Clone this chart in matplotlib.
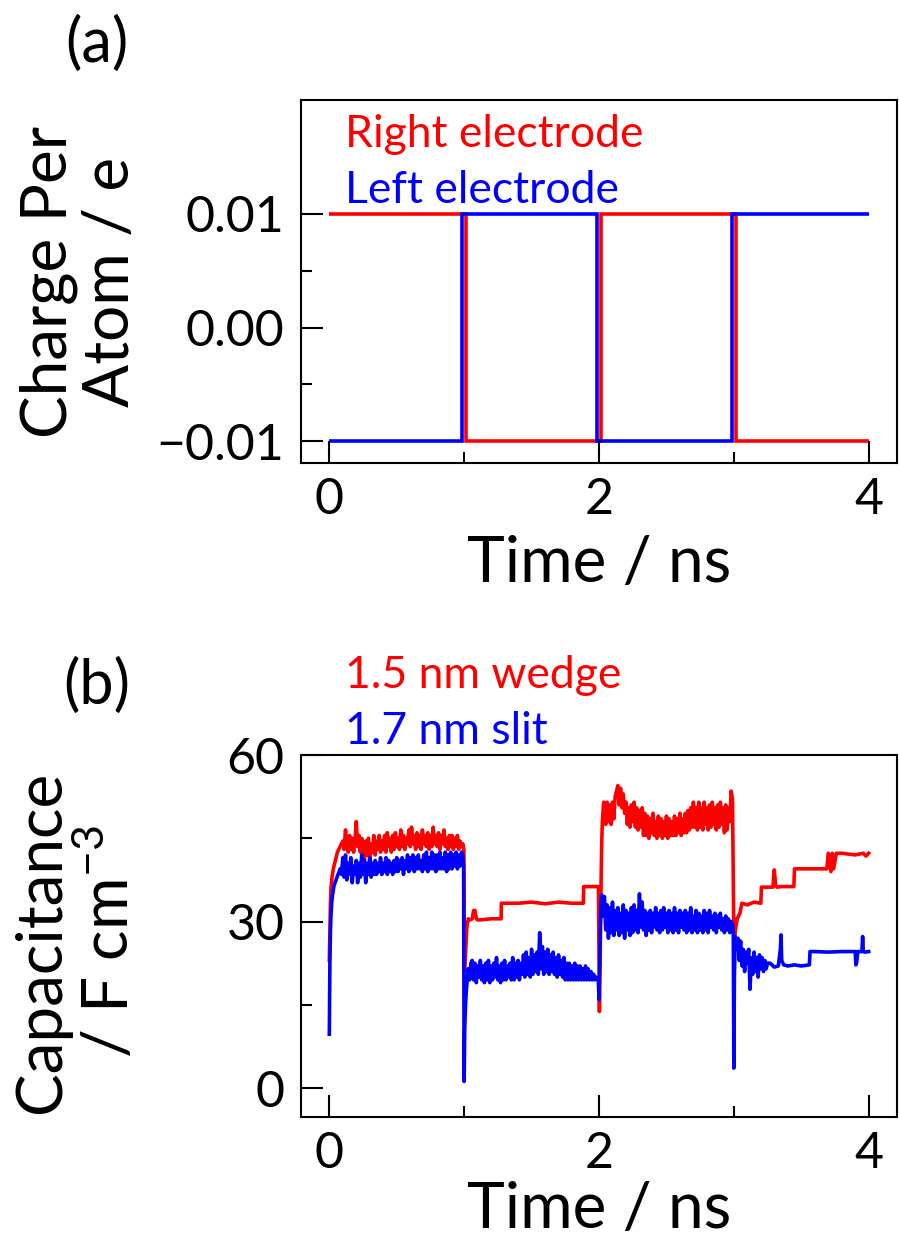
import numpy as np
import matplotlib
matplotlib.use("Agg")
import matplotlib.pyplot as plt
from matplotlib.ticker import FixedLocator

plt.rcParams['font.family'] = ['Lato', 'DejaVu Sans']
plt.rcParams['mathtext.fontset'] = 'custom'
plt.rcParams['mathtext.rm'] = 'Lato'
plt.rcParams['mathtext.default'] = 'regular'

RED = '#ff0000'
BLUE = '#0000ff'

# ---------------- (a) charge per atom ----------------
right_edges = [0.0, 1.017, 2.017, 3.017, 4.0]
right_charge = [0.01, -0.01, 0.01, -0.01]
left_edges = [0.0, 0.983, 1.983, 2.983, 4.0]
left_charge = [-0.01, 0.01, -0.01, 0.01]

# ---------------- (b) capacitance traces ----------------
# noisy plateaus are sampled every 0.01 ns between the given start/end times;
# explicit time lists are used around the switching events
wedge_rise_t = [0.0, 0.004, 0.008, 0.012, 0.02, 0.03, 0.04, 0.05, 0.06, 0.07, 0.08, 0.09]
wedge_rise_c = [23.0, 28.0, 33.0, 36.0, 38.0, 39.5, 40.5, 41.5, 42.5, 43.0, 43.5, 44.0]
wedge_p1 = [44.5, 43.0, 46.5, 44.0, 42.5, 45.5, 43.0, 45.0, 42.5, 44.5,
            48.0, 43.5, 45.5, 42.5, 45.0, 43.5, 41.0, 44.5, 42.0, 45.0,
            40.5, 44.0, 42.5, 45.5, 42.0, 44.5, 43.0, 45.5, 42.5, 44.5,
            43.0, 45.5, 42.5, 46.0, 43.5, 45.0, 42.5, 45.5, 43.0, 46.0,
            43.5, 45.0, 43.0, 46.5, 43.5, 45.5, 43.0, 45.0, 44.0, 46.5,
            43.5, 47.0, 44.0, 45.5, 43.0, 46.0, 43.5, 45.5, 43.0, 46.5,
            44.0, 45.5, 43.5, 46.0, 43.0, 45.5, 43.5, 47.0, 44.0, 45.5,
            43.5, 46.0, 43.0, 45.5, 44.0, 46.5, 43.5, 45.0, 43.0, 45.5,
            43.5, 45.5, 43.0, 45.0, 43.5, 45.5, 43.0, 44.5, 43.5]
wedge_sw1_t = [0.99, 0.998, 1.002, 1.01, 1.02, 1.03, 1.04, 1.06, 1.07, 1.08, 1.09, 1.10,
               1.12, 1.20, 1.274, 1.276, 1.40, 1.50, 1.60, 1.70, 1.80, 1.884, 1.886,
               1.95, 1.996, 2.003, 2.008, 2.012, 2.016, 2.02, 2.025, 2.03, 2.035]
wedge_sw1_c = [44.0, 43.0, 21.0, 24.0, 29.0, 30.5, 30.3, 30.5, 32.0, 32.0, 30.5, 30.3,
               30.3, 30.5, 30.5, 33.3, 33.3, 33.5, 33.2, 33.5, 33.3, 33.3, 36.3,
               36.3, 36.3, 13.8, 22.0, 30.0, 38.0, 44.0, 48.0, 50.0, 51.5]
wedge_p2 = [50.5, 47.5, 51.5, 48.0, 51.0, 47.5, 51.5, 48.5, 52.5, 53.5,
            54.5, 51.0, 54.0, 50.5, 53.0, 49.5, 51.5, 47.5, 50.5, 47.0,
            51.0, 48.0, 51.5, 47.0, 50.5, 46.5, 50.0, 47.0, 50.5, 45.5,
            49.5, 45.5, 49.0, 45.0, 48.5, 46.0, 49.5, 45.5, 48.0, 45.0,
            49.0, 45.5, 48.5, 45.0, 48.0, 45.5, 49.0, 45.0, 48.5, 45.5,
            48.0, 45.5, 49.0, 45.5, 48.5, 46.0, 49.5, 45.5, 48.5, 46.0,
            49.5, 46.0, 50.0, 46.5, 50.5, 47.0, 51.5, 47.0, 50.5, 46.5,
            51.5, 47.0, 50.5, 46.5, 51.5, 47.5, 50.5, 46.5, 51.0, 47.0,
            51.5, 47.5, 50.5, 46.5, 51.0, 47.0, 51.5, 47.5, 50.5, 46.0,
            51.0, 46.5, 50.5, 48.0, 53.5]
wedge_sw2_t = [2.99, 2.995, 3.0, 3.005, 3.015, 3.025, 3.035, 3.045, 3.06, 3.10, 3.15,
               3.20, 3.205, 3.25, 3.29, 3.30, 3.31, 3.32, 3.35, 3.445, 3.45, 3.55,
               3.60, 3.69, 3.70, 3.72, 3.73, 3.74, 3.76, 3.80, 3.90, 3.96, 3.98, 4.0]
wedge_sw2_c = [52.0, 40.0, 27.5, 27.0, 29.0, 30.5, 31.0, 31.5, 33.3, 33.0, 33.5,
               33.3, 36.2, 36.2, 36.2, 39.3, 36.5, 36.2, 36.3, 36.3, 39.5, 39.5,
               39.5, 39.5, 42.3, 39.0, 42.3, 39.5, 42.3, 42.3, 42.0, 42.3, 41.8, 42.3]

slit_rise_t = [0.0, 0.004, 0.008, 0.012, 0.018, 0.025, 0.035, 0.05, 0.065, 0.08, 0.09]
slit_rise_c = [9.7, 22.0, 28.0, 31.0, 33.5, 35.0, 36.5, 37.5, 38.5, 39.5, 38.5]
slit_p1 = [41.5, 38.0, 42.0, 37.5, 40.5, 38.5, 41.5, 37.0, 40.0, 38.5,
           41.0, 37.0, 40.5, 38.0, 42.0, 38.5, 41.0, 37.0, 40.5, 38.5,
           41.5, 38.0, 40.5, 38.5, 41.0, 38.5, 40.5, 39.0, 41.5, 38.5,
           40.5, 39.0, 41.5, 38.5, 41.0, 39.0, 40.5, 38.5, 41.0, 39.0,
           41.5, 39.0, 41.0, 39.5, 41.5, 38.5, 41.0, 39.5, 42.0, 39.0,
           41.5, 39.5, 42.0, 39.0, 41.5, 39.5, 42.0, 39.5, 41.0, 39.0,
           42.0, 39.5, 42.5, 39.0, 41.5, 39.5, 42.5, 39.5, 42.0, 39.0,
           42.0, 39.5, 42.5, 39.5, 41.5, 39.5, 42.5, 39.0, 42.0, 39.5,
           42.5, 39.5, 42.0, 40.0, 42.5, 39.5, 42.0, 40.0, 42.5]
slit_sw1_t = [0.99, 0.996, 1.0, 1.004, 1.01, 1.016, 1.022, 1.03, 1.04, 1.05]
slit_sw1_c = [42.0, 40.0, 1.2, 10.5, 15.0, 17.5, 19.5, 21.5, 19.5, 22.5]
slit_p2 = [23.0, 19.5, 22.5, 19.0, 22.0, 20.0, 23.0, 19.5, 22.0, 19.0,
           22.5, 19.5, 23.0, 19.0, 22.0, 19.5, 22.5, 20.0, 23.5, 19.5,
           22.0, 19.0, 22.5, 19.5, 23.0, 19.5, 22.0, 20.0, 22.5, 19.5,
           23.5, 19.5, 22.5, 20.0, 23.0, 19.5, 22.5, 20.5, 24.0, 20.0,
           24.5, 20.5, 23.5, 20.0, 25.0, 20.5, 24.0, 21.0, 24.5, 20.5,
           28.0, 21.5, 25.5, 20.5, 24.5, 21.0, 25.0, 20.5, 24.0, 21.0,
           24.5, 20.5, 23.5, 20.0, 24.0, 20.5, 23.0, 20.0, 23.5, 19.5,
           22.5, 19.5, 22.5, 19.5, 22.0, 19.5, 22.5, 19.5, 22.0, 19.5,
           22.0, 19.5, 21.5, 19.5, 22.0, 19.5, 21.5, 19.5, 21.0, 19.5,
           20.5, 19.5, 20.0]
slit_sw2_t = [1.995, 2.0, 2.005, 2.01, 2.015, 2.02, 2.03]
slit_sw2_c = [19.5, 15.9, 22.0, 29.5, 33.0, 34.8, 31.0]
slit_p3 = [34.5, 28.5, 33.0, 27.0, 32.5, 28.0, 33.5, 27.5, 32.0, 28.5,
           32.5, 27.5, 31.5, 28.0, 33.0, 27.0, 32.0, 28.5, 31.5, 27.5,
           32.5, 28.0, 33.0, 28.5, 32.0, 28.0, 35.0, 29.0, 33.5, 28.5,
           32.0, 27.5, 31.5, 28.5, 32.0, 28.0, 31.5, 29.0, 32.5, 28.5,
           31.5, 28.0, 32.0, 28.5, 32.5, 29.0, 31.5, 28.0, 32.0, 28.5,
           31.5, 28.0, 32.5, 28.5, 31.5, 28.0, 32.0, 29.0, 31.5, 28.5,
           32.0, 28.0, 31.5, 28.5, 32.5, 28.0, 31.0, 28.5, 32.0, 28.0,
           31.5, 28.5, 31.0, 28.0, 32.0, 28.5, 31.5, 28.0, 32.0, 29.0,
           31.0, 28.5, 31.5, 28.0, 31.0, 29.0, 31.5, 28.5, 30.5, 28.0,
           31.0, 28.5, 30.5, 28.0, 30.0]
slit_sw3_t = [2.99, 2.996, 3.0, 3.004, 3.01, 3.02]
slit_sw3_c = [29.5, 28.0, 3.6, 20.0, 27.3, 25.0]
slit_p4 = [27.0, 23.0, 26.5, 22.0, 25.0, 21.0, 24.5, 22.5, 25.0, 17.8, 23.5, 20.5,
           24.5, 21.0, 23.5, 20.0, 24.0, 21.5, 23.5, 21.0, 23.0, 21.5, 22.5]
slit_tail_t = [3.27, 3.30, 3.33, 3.345, 3.35, 3.355, 3.37, 3.40, 3.45, 3.50, 3.56,
               3.565, 3.60, 3.70, 3.80, 3.90, 3.905, 3.91, 3.92, 3.95, 3.955, 3.96,
               3.97, 4.0]
slit_tail_c = [22.5, 21.8, 22.0, 25.0, 27.6, 23.0, 22.2, 22.0, 22.2, 22.0, 22.2,
               24.6, 24.6, 24.5, 24.6, 24.6, 22.2, 22.5, 24.6, 24.6, 27.3, 24.6,
               24.5, 24.6]


def assemble(pieces):
    ts, cs = [], []
    for p in pieces:
        if len(p) == 2:
            t, c = p
        else:
            t0, t1, c = p
            t = np.linspace(t0, t1, len(c))
        ts.append(np.asarray(t, float))
        cs.append(np.asarray(c, float))
    return np.concatenate(ts), np.concatenate(cs)


wedge_t, wedge_c = assemble([(wedge_rise_t, wedge_rise_c), (0.10, 0.98, wedge_p1),
                             (wedge_sw1_t, wedge_sw1_c), (2.04, 2.98, wedge_p2),
                             (wedge_sw2_t, wedge_sw2_c)])
slit_t, slit_c = assemble([(slit_rise_t, slit_rise_c), (0.10, 0.98, slit_p1),
                           (slit_sw1_t, slit_sw1_c), (1.06, 1.98, slit_p2),
                           (slit_sw2_t, slit_sw2_c), (2.04, 2.98, slit_p3),
                           (slit_sw3_t, slit_sw3_c), (3.03, 3.25, slit_p4),
                           (slit_tail_t, slit_tail_c)])

xticks = [0, 2, 4]
xminor = [1, 3]
yticks_a = [-0.01, 0.0, 0.01]
yticklabels_a = ['\u22120.01', '0.00', '0.01']
yminor_a = [-0.005, 0.005]
yticks_b = [0, 30, 60]
yminor_b = [15, 45]

W, H = 899, 1247
fig = plt.figure(figsize=(W / 100, H / 100), dpi=100)

L, R = 301, 897
ax_a = fig.add_axes([L / W, 1 - 463 / H, (R - L) / W, 363 / H])
ax_b = fig.add_axes([L / W, 1 - 1117 / H, (R - L) / W, 362 / H])

TICK_FS = 36
LABEL_FS = 46
LEG_FS = 32
LW_A = 2.6
LW_B = 2.6

for ax, lab_y in ((ax_a, -119 / 363), (ax_b, -111 / 362)):
    ax.set_xlim(-0.21, 4.21)
    ax.xaxis.set_major_locator(FixedLocator(xticks))
    ax.xaxis.set_minor_locator(FixedLocator(xminor))
    ax.set_xticklabels([str(v) for v in xticks])
    ax.tick_params(which='both', direction='in', width=1.5, color='black',
                   top=False, right=False)
    ax.tick_params(which='major', length=16, labelsize=TICK_FS)
    ax.tick_params(axis='y', which='major', pad=12)
    ax.tick_params(axis='x', which='major', pad=10)
    ax.tick_params(which='minor', length=8)
    for s in ax.spines.values():
        s.set_linewidth(1.5)
        s.set_color('black')
    ax.set_xlabel('Time / ns', fontsize=LABEL_FS, va='baseline')
    ax.xaxis.set_label_coords(0.5, lab_y)

# panel (a)
ax_a.stairs(right_charge, right_edges, baseline=None, color=RED, lw=LW_A)
ax_a.stairs(left_charge, left_edges, baseline=None, color=BLUE, lw=LW_A)
ax_a.set_ylim(-0.0119, 0.0200)
ax_a.yaxis.set_major_locator(FixedLocator(yticks_a))
ax_a.yaxis.set_minor_locator(FixedLocator(yminor_a))
ax_a.set_yticklabels(yticklabels_a)
ax_a.text(44 / (R - L), (463 - 147) / 363, 'Right electrode', color=RED,
          fontsize=LEG_FS, transform=ax_a.transAxes, va='baseline')
ax_a.text(44 / (R - L), (463 - 203) / 363, 'Left electrode', color=BLUE,
          fontsize=LEG_FS, transform=ax_a.transAxes, va='baseline')
fig.text(80 / W, 1 - 282 / H, 'Charge Per\nAtom / e', rotation=90,
         ha='center', va='center', fontsize=LABEL_FS, linespacing=1.08)
fig.text(97 / W, 1 - 44 / H, '(a)', ha='center', va='center', fontsize=44)

# panel (b)
ax_b.plot(wedge_t, wedge_c, color=RED, lw=LW_B)
ax_b.plot(slit_t, slit_c, color=BLUE, lw=LW_B)
ax_b.set_ylim(-5.2, 60)
ax_b.yaxis.set_major_locator(FixedLocator(yticks_b))
ax_b.yaxis.set_minor_locator(FixedLocator(yminor_b))
ax_b.set_yticklabels([str(v) for v in yticks_b])
ax_b.text(44 / (R - L), (1117 - 688) / 362, '1.5 nm wedge', color=RED,
          fontsize=LEG_FS, transform=ax_b.transAxes, va='baseline')
ax_b.text(44 / (R - L), (1117 - 744) / 362, '1.7 nm slit', color=BLUE,
          fontsize=LEG_FS, transform=ax_b.transAxes, va='baseline')
fig.text(76 / W, 1 - 942 / H, 'Capacitance\n/ F cm$^{\u22123}$', rotation=90,
         ha='center', va='center', fontsize=LABEL_FS, linespacing=1.08)
fig.text(97 / W, 1 - 686 / H, '(b)', ha='center', va='center', fontsize=44)

fig.savefig('out.png', dpi=100, facecolor='white')
